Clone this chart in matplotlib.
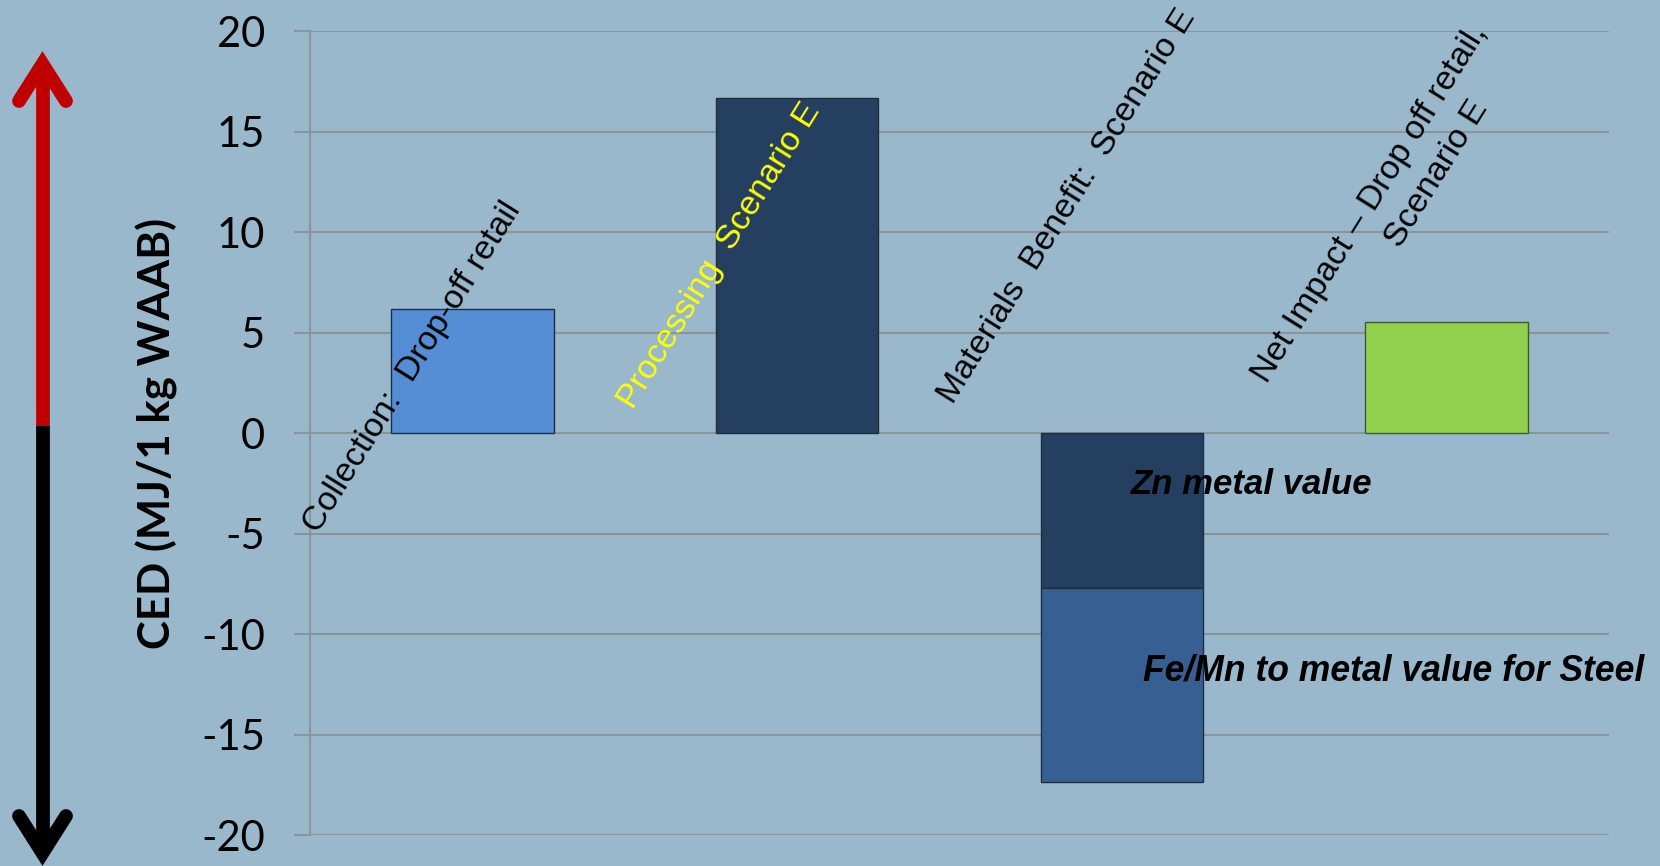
import matplotlib
matplotlib.use("Agg")
import matplotlib.pyplot as plt
from matplotlib.lines import Line2D
from matplotlib import font_manager

# ---------------- data ----------------
stage_labels = ["Collection:  Drop-off retail",
                "Processing  Scenario E",
                "Materials  Benefit:  Scenario E",
                "Net Impact \u2013 Drop off retail,",
                "Scenario E"]
collection_value = [6.17]
processing_value = [16.7]
zn_value = [-7.7]
femn_value = [-9.67]
net_value = [5.55]
segment_labels = ["Zn metal value", "Fe/Mn to metal value for Steel"]
y_ticks = [-20, -15, -10, -5, 0, 5, 10, 15, 20]
y_label = "CED (MJ/1 kg WAAB)"

# ---------------- fonts ----------------
avail = {f.name for f in font_manager.fontManager.ttflist}
def pick(*names):
    for n in names:
        if n in avail:
            return n
    return "DejaVu Sans"
ARIAL = pick("Liberation Sans", "Arimo", "DejaVu Sans")
CAL = pick("Lato", "Open Sans", "DejaVu Sans")

# ---------------- style ----------------
BG = "#99B8CB"
GRID = "#8A949C"
EDGE = "#1F2D3D"
W, H = 1660, 866

fig = plt.figure(figsize=(W / 100, H / 100), dpi=100, facecolor=BG)
ax = fig.add_axes([310 / W, 1 - 835.3 / H, (1609 - 310) / W, (835.3 - 31.3) / H])
ax.set_facecolor(BG)

# bars
ax.bar([0], collection_value, width=0.5, color="#558ED5", edgecolor=EDGE, linewidth=1, zorder=3)
ax.bar([1], processing_value, width=0.5, color="#243F60", edgecolor=EDGE, linewidth=1, zorder=3)
ax.bar([2], zn_value, width=0.5, color="#243F60", edgecolor=EDGE, linewidth=1, zorder=3)
ax.bar([2], femn_value, bottom=zn_value, width=0.5, color="#376092", edgecolor=EDGE, linewidth=1, zorder=3)
ax.bar([3], net_value, width=0.5, color="#92D050", edgecolor="#3F5A2A", linewidth=1, zorder=3)

ax.set_xlim(-0.5, 3.5)
ax.set_ylim(-20, 20)
ax.set_yticks(y_ticks)
ax.set_yticklabels([str(v) for v in y_ticks], fontsize=30, family=CAL, color="black")
ax.tick_params(axis="y", length=11.5, width=1.5, color=GRID, pad=21, direction="out")
ax.set_xticks([])
ax.yaxis.grid(True, color=GRID, linewidth=1.5, zorder=0)
for s in ["top", "right", "bottom"]:
    ax.spines[s].set_visible(False)
ax.spines["left"].set_color(GRID)
ax.spines["left"].set_linewidth(1.5)

# rotated category labels
ANG = 58
label_pos = [(0 - 0.184, 3.30), (1 - 0.239, 8.85), (2 - 0.169, 11.31),
             (3 - 0.236, 11.43), (3 - 0.030, 12.93)]
label_col = ["black", "#FFFF00", "black", "black", "black"]
for txt, (x, y), c in zip(stage_labels, label_pos, label_col):
    ax.text(x, y, txt, rotation=ANG, rotation_mode="anchor", ha="center", va="center",
            fontsize=24.5, family=ARIAL, color=c, zorder=5, clip_on=False)

# segment annotations
ax.text(2.028, -3.0, segment_labels[0], ha="left", va="baseline", fontsize=25,
        family=ARIAL, fontweight="bold", fontstyle="italic", color="black", zorder=5)
ax.text(2.065, -12.32, segment_labels[1], ha="left", va="baseline", fontsize=25.6,
        family=ARIAL, fontweight="bold", fontstyle="italic", color="black", zorder=5,
        clip_on=False)

# y label
fig.text(157 / W, 1 - 433.3 / H, y_label, rotation=90, ha="center", va="center",
         fontsize=31.5, family=CAL, fontweight="bold", color="black")

# ---------------- side arrow (figure pixels) ----------------
def P(x, y):
    return x / W, 1 - y / H

def line(pts, color, capstyle="butt"):
    xs, ys = zip(*[P(*p) for p in pts])
    fig.add_artist(Line2D(xs, ys, transform=fig.transFigure, color=color, linewidth=9.9,
                          solid_capstyle=capstyle, solid_joinstyle="miter"))

RED = "#C00000"
line([(42.5, 64), (42.5, 427)], RED)
line([(19, 101), (42.5, 64), (66, 101)], RED, "round")
line([(42.5, 426), (42.5, 853)], "black")
line([(19, 816), (42.5, 853), (66, 816)], "black", "round")

fig.savefig("out.png", dpi=100, facecolor=BG)
